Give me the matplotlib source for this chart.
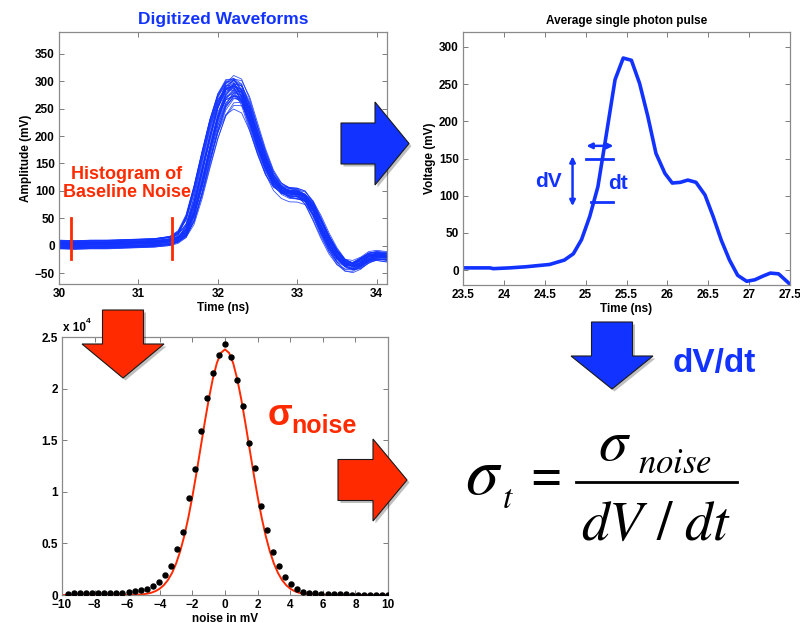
import numpy as np
import matplotlib
matplotlib.use("Agg")
import matplotlib.pyplot as plt
from matplotlib.patches import Polygon
from matplotlib.lines import Line2D
from matplotlib.ticker import FuncFormatter

plt.rcParams['font.family'] = ['Liberation Sans', 'DejaVu Sans']
plt.rcParams['mathtext.fontset'] = 'stix'

BLUE = '#1233ff'
RED = '#ff2a00'

# --- digitized waveforms: mean pulse shape (ns, mV) ---
t_wave = [30.0, 30.2, 30.4, 30.6, 30.8, 31.0, 31.2, 31.4, 31.5, 31.6, 31.7,
          31.8, 31.9, 32.0, 32.1, 32.2, 32.3, 32.4, 32.5, 32.6, 32.7, 32.8,
          32.9, 33.0, 33.1, 33.2, 33.3, 33.4, 33.5, 33.6, 33.7, 33.8, 33.9,
          34.0, 34.1, 34.2]
v_wave = [2, 1, 2, 2, 3, 4, 5, 8, 14, 28, 71,
          132, 193, 248, 283, 292, 282, 242, 193, 151, 117, 102,
          96, 96, 90, 68, 34, 4, -21, -36, -39, -33, -21,
          -18, -20, -22]

# per-trace timing jitter (ns), gain and baseline offset (mV)
trace_shift = [-0.05, 0.02, 0.04, -0.01, 0.06, -0.03, 0.00, 0.03, -0.06, 0.05,
               0.01, -0.02, 0.04, -0.04, 0.02, 0.00, -0.01, 0.05, -0.05, 0.03,
               0.01, -0.03, 0.06, -0.02, 0.00, 0.04, -0.06, 0.02, -0.01, 0.03,
               0.05, -0.04, 0.01, -0.02, 0.00, 0.03, -0.03, 0.04, 0.02, -0.05]
trace_gain = [1.02, 0.95, 1.05, 0.98, 0.92, 1.07, 1.00, 0.97, 1.03, 0.89,
              1.01, 0.96, 1.04, 0.99, 0.93, 1.06, 1.00, 0.94, 1.02, 0.98,
              0.87, 1.03, 0.97, 1.01, 1.05, 0.95, 0.99, 1.02, 0.91, 1.00,
              0.96, 1.04, 0.98, 1.01, 0.94, 1.03, 0.99, 0.97, 1.06, 1.00]
trace_offset = [4, -6, 1, 7, -3, -7, 2, 5, -4, 0,
                8, -1, -5, 3, 4, -8, 1, -2, 6, 0,
                -4, 7, 2, -6, -1, 4, 0, -5, 8, 1,
                -3, 5, -4, 3, 0, -2, 6, -7, 3, 1]

# --- average single photon pulse (ns, mV) ---
t_avg = [23.5, 23.83, 23.87, 24.07, 24.27, 24.56, 24.74, 24.85, 24.95, 25.05,
         25.15, 25.25, 25.36, 25.46, 25.56, 25.66, 25.76, 25.86, 25.97, 26.06,
         26.16, 26.25, 26.35, 26.46, 26.56, 26.66, 26.76, 26.86, 26.97, 27.07,
         27.17, 27.26, 27.36, 27.5]
v_avg = [3, 3, 2, 3, 4.5, 7.6, 13.5, 22, 41, 72,
         112, 180, 256, 285, 282, 251, 207, 157, 130, 117,
         118, 121, 118, 101, 72, 40, 13.5, -7, -15, -13,
         -8, -4, -5, -19]

# --- baseline noise histogram (counts per 0.37 mV bin, k = -26..27) ---
bin_width = 0.37
bin_index = np.arange(-26, 28)
noise_counts = [100, 200, 220, 180, 200, 210, 200, 220, 210, 240, 280,
                390, 450, 580, 870, 1290, 1940, 2840, 4420, 6130, 9390,
                12190, 15900, 19130, 21520, 23290,
                24290,
                23060, 20810, 18290, 14770, 12320, 8610, 6290, 4190, 2810, 1770,
                1060, 610, 320, 230, 160,
                120, 90, 80, 60, 50, 40, 40, 30, 30, 30, 30, 30]
# gaussian fit curve (mV, counts)
x_fit = [-10, -6.0, -5.5, -5.0, -4.75, -4.5, -4.25, -4.0, -3.75, -3.5, -3.25,
         -3.0, -2.75, -2.5, -2.25, -2.0, -1.75, -1.5, -1.25, -1.0, -0.75,
         -0.5, -0.25, 0.0, 0.25, 0.5, 0.75, 1.0, 1.25, 1.5, 1.75, 2.0,
         2.25, 2.5, 2.75, 3.0, 3.25, 3.5, 3.75, 4.0, 4.25, 4.5, 4.75,
         5.0, 5.5, 6.0, 10]
y_fit = [0, 6, 24, 79, 138, 234, 385, 617, 960, 1452, 2134,
         3049, 4234, 5712, 7493, 9549, 11829, 14240, 16660, 18943, 20932,
         22480, 23462, 23800, 23462, 22480, 20932, 18943, 16660, 14240, 11829, 9549,
         7493, 5712, 4234, 3049, 2134, 1452, 960, 617, 385, 234, 138,
         79, 24, 6, 0]

W, H = 800, 623
fig = plt.figure(figsize=(8, 6.23), dpi=100)


def fx(px):
    return px / W


def fy(py):
    return 1 - py / H


def style(ax):
    for s in ax.spines.values():
        s.set_color('#8a8a8a')
        s.set_linewidth(0.9)
    ax.tick_params(direction='in', top=True, right=True, length=3.5, width=0.6,
                   color='#666666', labelsize=8.5, pad=3)
    for lab in ax.get_xticklabels() + ax.get_yticklabels():
        lab.set_fontweight('bold')


# top left: all waveforms
ax1 = fig.add_axes([fx(59), fy(284), fx(387) - fx(59), fy(32) - fy(284)])
t_arr = np.array(t_wave)
for sh, g, off in zip(trace_shift, trace_gain, trace_offset):
    ax1.plot(t_arr, g * np.interp(t_arr - sh, t_wave, v_wave) + off,
             color=BLUE, lw=0.6, alpha=0.85)
for tx in (30.15, 31.42):
    ax1.plot([tx, tx], [-25, 50], color=RED, lw=2)
ax1.set_xlim(30, 34.13)
ax1.set_ylim(-70, 390)
ax1.set_xticks([30, 31, 32, 33, 34])
ax1.set_yticks(range(-50, 351, 50))
ax1.set_xlabel('Time (ns)', fontsize=8.5, fontweight='bold', labelpad=1)
ax1.set_ylabel('Amplitude (mV)', fontsize=8.5, fontweight='bold', labelpad=2)
ax1.set_title('Digitized Waveforms', color=BLUE, fontsize=12.5,
              fontweight='bold', pad=6)
ax1.text(30.85, 113, 'Histogram of\nBaseline Noise', color=RED, fontsize=13,
         fontweight='bold', ha='center', va='center', linespacing=1.05)
style(ax1)

# top right: averaged pulse
ax2 = fig.add_axes([fx(463), fy(285), fx(790) - fx(463), fy(32) - fy(285)])
ax2.plot(t_avg, v_avg, color=BLUE, lw=2.6)
ax2.set_xlim(23.5, 27.5)
ax2.set_ylim(-20, 320)
ax2.set_xticks([23.5, 24, 24.5, 25, 25.5, 26, 26.5, 27, 27.5])
ax2.set_xticklabels(['23.5', '24', '24.5', '25', '25.5', '26', '26.5', '27', '27.5'])
ax2.set_yticks(range(0, 301, 50))
ax2.set_xlabel('Time (ns)', fontsize=8.5, fontweight='bold', labelpad=1)
ax2.set_ylabel('Voltage (mV)', fontsize=8.5, fontweight='bold', labelpad=2)
ax2.set_title('Average single photon pulse', fontsize=8.5, fontweight='bold', pad=6)
ax2.plot([25.01, 25.33], [150, 150], color=BLUE, lw=2)
ax2.plot([25.07, 25.33], [91, 91], color=BLUE, lw=2)
ax2.annotate('', xy=(24.84, 86), xytext=(24.84, 153),
             arrowprops=dict(arrowstyle='<|-|>', color=BLUE, lw=1.8, mutation_scale=8,
                             shrinkA=0, shrinkB=0))
ax2.annotate('', xy=(25.01, 167), xytext=(25.34, 167),
             arrowprops=dict(arrowstyle='<|-|>', color=BLUE, lw=1.8, mutation_scale=8,
                             shrinkA=0, shrinkB=0))
ax2.text(24.54, 119, 'dV', color=BLUE, fontsize=15, fontweight='bold',
         ha='center', va='center')
ax2.text(25.39, 117, 'dt', color=BLUE, fontsize=15, fontweight='bold',
         ha='center', va='center')
style(ax2)

# bottom left: noise histogram and gaussian fit
ax3 = fig.add_axes([fx(62), fy(595), fx(388) - fx(62), fy(337) - fy(595)])
ax3.plot(x_fit, y_fit, color=RED, lw=1.4, zorder=2)
ax3.plot(bin_index * bin_width, noise_counts, 'o', color='black', ms=3.6, zorder=3)
ax3.set_xlim(-10, 10)
ax3.set_ylim(0, 25000)
ax3.set_xticks(range(-10, 11, 2))
ax3.set_yticks(range(0, 25001, 5000))
ax3.yaxis.set_major_formatter(FuncFormatter(lambda v, p: f'{v / 1e4:g}'))
ax3.set_xlabel('noise in mV', fontsize=8.5, fontweight='bold', labelpad=1)
ax3.text(0.003, 1.012, 'x 10', transform=ax3.transAxes, fontsize=8.5,
         fontweight='bold', ha='left', va='bottom')
ax3.text(0.072, 1.045, '4', transform=ax3.transAxes, fontsize=6,
         fontweight='bold', ha='left', va='bottom')
ax3.text(2.64, 16500, 'σ', color=RED, fontsize=26, fontweight='bold',
         ha='left', va='baseline')
ax3.text(4.05, 15700, 'noise', color=RED, fontsize=18, fontweight='bold',
         ha='left', va='baseline')
style(ax3)


def block_arrow(pts, color):
    shadow = [(fx(x + 2.5), fy(y + 2.5)) for x, y in pts]
    fig.patches.append(Polygon(shadow, closed=True, transform=fig.transFigure,
                               facecolor='#000000', alpha=0.25, edgecolor='none',
                               zorder=5))
    fig.patches.append(Polygon([(fx(x), fy(y)) for x, y in pts], closed=True,
                               transform=fig.transFigure, facecolor=color,
                               edgecolor='#1a1a1a', lw=0.8, zorder=6))


def right_arrow(x0, x1, xt, yc, half_body, half_head, color):
    block_arrow([(x0, yc - half_body), (x1, yc - half_body), (x1, yc - half_head),
                 (xt, yc), (x1, yc + half_head), (x1, yc + half_body),
                 (x0, yc + half_body)], color)


def down_arrow(y0, y1, yt, xc, half_body, half_head, color):
    block_arrow([(xc - half_body, y0), (xc + half_body, y0), (xc + half_body, y1),
                 (xc + half_head, y1), (xc, yt), (xc - half_head, y1),
                 (xc - half_body, y1)], color)


right_arrow(341, 375, 409, 143.5, 20.5, 41.5, BLUE)
right_arrow(338, 373, 407, 480, 20.5, 41, RED)
down_arrow(310, 344, 378, 123, 20.5, 41, RED)
down_arrow(322, 356, 389, 612, 20.5, 41, BLUE)

fig.text(fx(673), fy(372), 'dV/dt', color=BLUE, fontsize=24, fontweight='bold',
         ha='left', va='baseline')

# timing resolution formula
fig.text(fx(465), fy(494), r'$\sigma$', fontsize=48, ha='left', va='baseline')
fig.text(fx(502), fy(508), r'$t$', fontsize=24, ha='left', va='baseline')
fig.text(fx(546), fy(482), '=', fontsize=40, fontweight='bold',
         family='Liberation Serif', ha='center', va='center')
fig.lines.append(Line2D([fx(576), fx(737)], [fy(482), fy(482)],
                        transform=fig.transFigure, color='black', lw=2))
fig.text(fx(598), fy(460), r'$\sigma$', fontsize=42, ha='left', va='baseline')
fig.text(fx(638), fy(473), r'$noise$', fontsize=25, ha='left', va='baseline')
fig.text(fx(656), fy(540), r'$dV\ /\ dt$', fontsize=40,
         ha='center', va='baseline')

fig.savefig('out.png', dpi=100)
